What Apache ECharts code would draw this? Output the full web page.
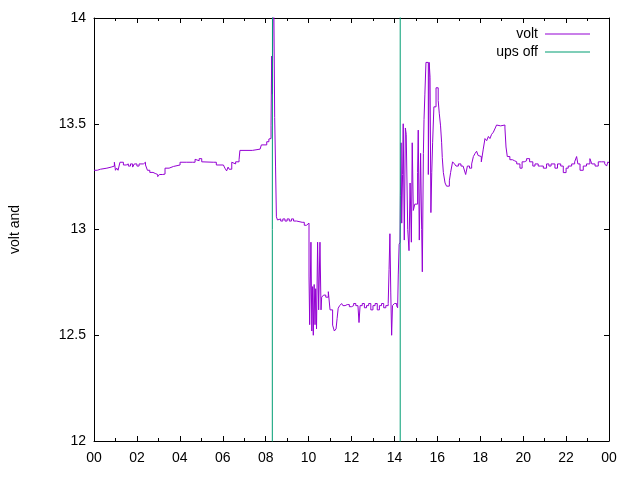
<!DOCTYPE html>
<html>
<head>
<meta charset="utf-8">
<script src="https://cdn.jsdelivr.net/npm/echarts@6/dist/echarts.min.js"></script>
<style>
  html, body { margin: 0; padding: 0; background: #fff; }
  #chart { width: 640px; height: 480px; }
</style>
</head>
<body>
<div id="chart"></div>
<script>
// hours of day and battery voltage
var voltHours = [
  0.0, 0.15, 0.3, 0.6, 0.8, 0.95, 1.0, 1.06, 1.12, 1.21, 1.37, 1.5, 1.6, 1.7, 1.8, 1.88, 2.0, 2.1, 2.3, 2.4,
  2.49, 2.6, 2.75, 2.85, 2.97, 3.05, 3.2, 3.31, 3.5, 3.7, 4.01, 4.3, 4.6, 4.71, 4.8, 4.9, 5.02, 5.1, 5.56, 5.7,
  6.03, 6.1, 6.18, 6.25, 6.3, 6.42, 6.5, 6.6, 6.76, 6.8, 7.38, 7.45, 7.74, 7.8, 8.05, 8.15, 8.22, 8.25, 8.28, 8.31,
  8.33, 8.37, 8.42, 8.46, 8.5, 8.55, 8.6, 8.7, 8.8, 8.9, 9.0, 9.1, 9.2, 9.3, 9.44, 9.5, 9.7, 9.8, 9.9, 9.99,
  10.02, 10.05, 10.11, 10.15, 10.19, 10.22, 10.26, 10.30, 10.33, 10.37, 10.42, 10.47, 10.53, 10.58, 10.61, 10.7, 10.8, 10.92, 10.96, 11.0,
  11.06, 11.12, 11.2, 11.28, 11.33, 11.38, 11.45, 11.54, 11.6, 11.7, 11.8, 11.9, 12.0, 12.1, 12.2, 12.3, 12.35, 12.4, 12.5, 12.6,
  12.7, 12.8, 12.9, 13.0, 13.1, 13.2, 13.3, 13.4, 13.5, 13.6, 13.71, 13.75, 13.79, 13.83, 13.87, 13.91, 14.0, 14.1, 14.15, 14.18,
  14.22, 14.26, 14.28, 14.31, 14.34, 14.38, 14.41, 14.46, 14.51, 14.55, 14.62, 14.68, 14.73, 14.79, 14.83, 14.88, 14.95, 15.04, 15.08, 15.11,
  15.16, 15.22, 15.27, 15.30, 15.35, 15.38, 15.42, 15.47, 15.53, 15.58, 15.62, 15.66, 15.70, 15.74, 15.78, 15.84, 15.94, 16.04, 16.09, 16.15,
  16.20, 16.23, 16.28, 16.36, 16.43, 16.56, 16.62, 16.71, 16.80, 16.87, 16.98, 17.1, 17.2, 17.29, 17.32, 17.4, 17.5, 17.6, 17.68, 17.76,
  17.83, 17.9, 17.99, 18.05, 18.14, 18.22, 18.3, 18.38, 18.45, 18.53, 18.61, 18.7, 18.76, 18.85, 18.95, 19.04, 19.15, 19.20, 19.26, 19.38,
  19.5, 19.6, 19.70, 19.85, 19.95, 20.05, 20.16, 20.3, 20.45, 20.55, 20.7, 20.8, 20.94, 21.09, 21.2, 21.3, 21.48, 21.6, 21.75, 21.87,
  22.0, 22.1, 22.26, 22.40, 22.49, 22.55, 22.65, 22.8, 22.95, 23.11, 23.2, 23.35, 23.5, 23.65, 23.8, 23.89, 23.95, 24.0
];
var voltValues = [
  13.28, 13.285, 13.29, 13.295, 13.30, 13.318, 13.28, 13.29, 13.28, 13.318, 13.305, 13.31, 13.30, 13.31, 13.295, 13.31, 13.30, 13.31, 13.318, 13.305,
  13.28, 13.27, 13.265, 13.26, 13.25, 13.26, 13.262, 13.29, 13.298, 13.305, 13.318, 13.318, 13.318, 13.332, 13.325, 13.335, 13.32, 13.318, 13.318, 13.305,
  13.30, 13.29, 13.277, 13.295, 13.285, 13.318, 13.31, 13.32, 13.33, 13.374, 13.374, 13.38, 13.387, 13.40, 13.415, 13.428, 13.43, 13.49, 13.82, 13.64,
  13.94, 14.2, 13.53, 13.30, 13.06, 13.045, 13.05, 13.04, 13.05, 13.04, 13.05, 13.04, 13.05, 13.04, 13.04, 13.034, 13.034, 13.02, 13.028, 13.03,
  12.78, 12.55, 12.94, 12.52, 12.73, 12.50, 12.74, 12.55, 12.72, 12.53, 12.94, 12.62, 12.94, 12.62, 12.68, 12.69, 12.68, 12.706, 12.70, 12.62,
  12.62, 12.548, 12.52, 12.53, 12.58, 12.628, 12.64, 12.65, 12.64, 12.645, 12.645, 12.635, 12.64, 12.65, 12.64, 12.645, 12.56, 12.64, 12.65, 12.63,
  12.64, 12.65, 12.62, 12.64, 12.65, 12.62, 12.64, 12.65, 12.63, 12.64, 12.65, 12.81, 12.98, 12.70, 12.50, 12.64, 12.65, 12.64, 12.63, 12.785,
  12.93, 12.94, 13.16, 13.41, 13.03, 13.26, 13.50, 12.95, 13.48, 13.45, 13.00, 12.90, 13.22, 12.94, 13.41, 13.09, 13.12, 13.12, 13.27, 13.47,
  12.95, 13.36, 13.00, 12.80, 13.36, 13.52, 13.64, 13.79, 13.79, 13.26, 13.79, 13.72, 13.08, 13.27, 13.41, 13.58, 13.67, 13.61, 13.55, 13.49,
  13.41, 13.34, 13.27, 13.22, 13.205, 13.23, 13.27, 13.32, 13.31, 13.30, 13.31, 13.30, 13.30, 13.30, 13.26, 13.30, 13.29, 13.31, 13.345, 13.36,
  13.37, 13.35, 13.345, 13.32, 13.38, 13.43, 13.42, 13.44, 13.43, 13.45, 13.46, 13.48, 13.494, 13.49, 13.495, 13.494, 13.48, 13.39, 13.345, 13.33,
  13.325, 13.32, 13.31, 13.29, 13.32, 13.325, 13.335, 13.32, 13.30, 13.31, 13.30, 13.30, 13.29, 13.31, 13.30, 13.31, 13.29, 13.31, 13.30, 13.269,
  13.29, 13.30, 13.31, 13.32, 13.345, 13.31, 13.28, 13.30, 13.31, 13.335, 13.31, 13.30, 13.32, 13.32, 13.31, 13.30, 13.32, 13.315
];
// ups off marker series (goes off the plotted range)
var upsHours = [0, 8.31, 8.31, 8.36, 8.36, 14.27, 14.27, 24];
var upsValues = [0, 0, 13.0, 13.0, 20, 20, 0, 0];

function pairs(xs, ys) {
  return xs.map(function (x, i) { return [x, ys[i]]; });
}

var font = '"Liberation Sans", Arial, sans-serif';
var black = { color: '#000', width: 1 };

function xAxisDef(pos, labels) {
  return {
    type: 'value', position: pos, min: 0, max: 24, interval: 2,
    axisLine: { show: true, onZero: false, lineStyle: black },
    axisTick: { show: true, inside: true, length: 5, lineStyle: black },
    minorTick: { show: true, splitNumber: 2, length: 3, lineStyle: black },
    splitLine: { show: false },
    axisLabel: {
      show: labels, color: '#000', fontSize: 14, fontFamily: font, margin: 10,
      formatter: function (v) { var h = Math.round(v) % 24; return (h < 10 ? '0' : '') + h; }
    }
  };
}
function yAxisDef(pos, labels) {
  return {
    type: 'value', position: pos, min: 12, max: 14, interval: 0.5,
    name: labels ? 'volt and' : '', nameLocation: 'middle', nameGap: 72, nameRotate: 90,
    nameTextStyle: { color: '#000', fontSize: 14, fontFamily: font },
    axisLine: { show: true, onZero: false, lineStyle: black },
    axisTick: { show: true, inside: true, length: 5, lineStyle: black },
    splitLine: { show: false },
    axisLabel: { show: labels, color: '#000', fontSize: 14, fontFamily: font, margin: 8 }
  };
}

var chart = echarts.init(document.getElementById('chart'));
chart.setOption({
  animation: false,
  backgroundColor: '#fff',
  grid: { left: 94, right: 31, top: 18, bottom: 39 },
  legend: {
    data: ['volt', 'ups off'],
    orient: 'vertical', right: 45, top: 22, align: 'right',
    icon: 'rect', itemWidth: 45, itemHeight: 1, itemGap: 4,
    textStyle: { color: '#000', fontSize: 14, fontFamily: font, padding: [0, 2, 0, 0] }
  },
  xAxis: [xAxisDef('bottom', true), xAxisDef('top', false)],
  yAxis: [yAxisDef('left', true), yAxisDef('right', false)],
  series: [
    {
      name: 'volt', type: 'line', data: pairs(voltHours, voltValues),
      symbol: 'none', step: 'end', clip: true,
      color: '#9400d3', lineStyle: { color: '#9400d3', width: 1 }
    },
    {
      name: 'ups off', type: 'line', data: pairs(upsHours, upsValues),
      symbol: 'none', clip: true,
      color: '#009e73', lineStyle: { color: '#009e73', width: 1 }
    }
  ]
});
</script>
</body>
</html>
